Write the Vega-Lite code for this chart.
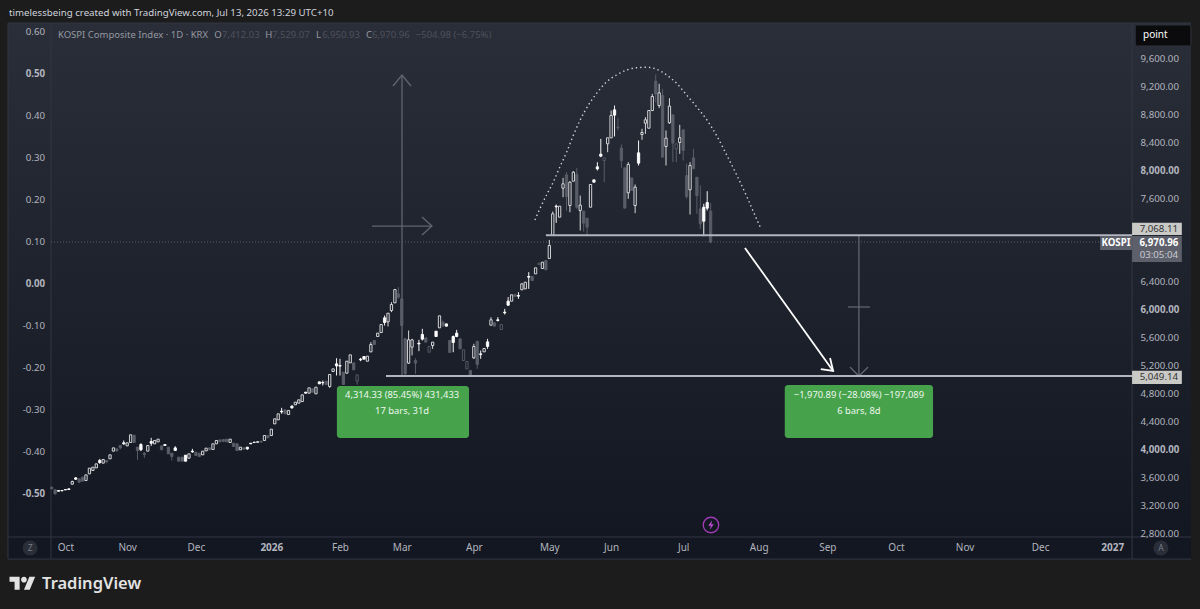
{"$schema":"https://vega.github.io/schema/vega-lite/v6.json","width":1200,"height":609,"autosize":"none","padding":0,"background":"#1c1c1c",
"config":{"font":"Noto Sans","view":{"stroke":null},"text":{"font":"Noto Sans","baseline":"middle"}},
"datasets":{
"frame":[{"part":"panel","bar":-12.73,"bar2":331.96,"price":2743,"price2":10108},{"part":"timeaxis","bar":-12.73,"bar2":331.96,"price":2427,"price2":2743}],
"borders":[{"bar":-0.2,"bar2":-0.2,"price":2427,"price2":10108},{"bar":314.8,"bar2":314.8,"price":2427,"price2":10108},{"bar":-12.73,"bar2":331.96,"price":2743,"price2":2743},{"bar":-12.73,"bar2":-12.73,"price":2427,"price2":10108},{"bar":-12.73,"bar2":331.96,"price":2427,"price2":2427},{"bar":-12.73,"bar2":331.96,"price":10108,"price2":10108}],
"candles":[
{"bar":0,"open":3457,"high":3460,"low":3430,"close":3433,"kind":"sd"},
{"bar":1,"open":3418,"high":3430,"low":3350,"close":3361,"kind":"sd"},
{"bar":2,"open":3409,"high":3412,"low":3396,"close":3399,"kind":"su"},
{"bar":3,"open":3409,"high":3412,"low":3400,"close":3404,"kind":"su"},
{"bar":4,"open":3423,"high":3426,"low":3415,"close":3418,"kind":"su"},
{"bar":5,"open":3433,"high":3436,"low":3420,"close":3423,"kind":"su"},
{"bar":6,"open":3500,"high":3550,"low":3495,"close":3538,"kind":"hu"},
{"bar":7,"open":3590,"high":3600,"low":3560,"close":3571,"kind":"su"},
{"bar":8,"open":3576,"high":3580,"low":3515,"close":3528,"kind":"sd"},
{"bar":9,"open":3600,"high":3605,"low":3540,"close":3543,"kind":"sd"},
{"bar":10,"open":3552,"high":3633,"low":3552,"close":3633,"kind":"hu"},
{"bar":11,"open":3648,"high":3729,"low":3648,"close":3729,"kind":"hu"},
{"bar":12,"open":3696,"high":3743,"low":3696,"close":3743,"kind":"hu"},
{"bar":13,"open":3734,"high":3791,"low":3734,"close":3791,"kind":"hu"},
{"bar":14,"open":3839,"high":3863,"low":3791,"close":3810,"kind":"su"},
{"bar":15,"open":3801,"high":3853,"low":3801,"close":3853,"kind":"hu"},
{"bar":16,"open":3839,"high":3839,"low":3800,"close":3820,"kind":"sd"},
{"bar":17,"open":3863,"high":3920,"low":3863,"close":3920,"kind":"hu"},
{"bar":18,"open":3973,"high":4020,"low":3973,"close":4020,"kind":"hu"},
{"bar":19,"open":4006,"high":4006,"low":3960,"close":3982,"kind":"sd"},
{"bar":20,"open":4054,"high":4054,"low":4000,"close":4020,"kind":"sd"},
{"bar":21,"open":4092,"high":4126,"low":4063,"close":4078,"kind":"su"},
{"bar":22,"open":4049,"high":4092,"low":4049,"close":4092,"kind":"hu"},
{"bar":23,"open":4097,"high":4207,"low":4097,"close":4207,"kind":"hu"},
{"bar":24,"open":4202,"high":4202,"low":4097,"close":4097,"kind":"sd"},
{"bar":25,"open":4030,"high":4030,"low":3848,"close":3982,"kind":"sd"},
{"bar":26,"open":4068,"high":4087,"low":3973,"close":3992,"kind":"su"},
{"bar":27,"open":3944,"high":3958,"low":3877,"close":3925,"kind":"sd"},
{"bar":28,"open":3973,"high":4054,"low":3973,"close":4054,"kind":"hu"},
{"bar":29,"open":4111,"high":4164,"low":4049,"close":4087,"kind":"su"},
{"bar":30,"open":4078,"high":4126,"low":4078,"close":4126,"kind":"hu"},
{"bar":31,"open":4106,"high":4145,"low":4106,"close":4145,"kind":"hu"},
{"bar":32,"open":4049,"high":4049,"low":3992,"close":3992,"kind":"sd"},
{"bar":33,"open":4068,"high":4072,"low":4050,"close":4054,"kind":"su"},
{"bar":34,"open":4030,"high":4030,"low":3934,"close":3934,"kind":"sd"},
{"bar":35,"open":3944,"high":3944,"low":3839,"close":3896,"kind":"sd"},
{"bar":36,"open":4020,"high":4044,"low":3982,"close":3982,"kind":"su"},
{"bar":37,"open":3887,"high":3887,"low":3829,"close":3829,"kind":"sd"},
{"bar":38,"open":3887,"high":3887,"low":3829,"close":3829,"kind":"sd"},
{"bar":39,"open":3915,"high":3915,"low":3829,"close":3829,"kind":"su"},
{"bar":40,"open":3872,"high":3934,"low":3872,"close":3934,"kind":"hu"},
{"bar":41,"open":3973,"high":4006,"low":3949,"close":3963,"kind":"su"},
{"bar":42,"open":3958,"high":3958,"low":3911,"close":3911,"kind":"sd"},
{"bar":43,"open":3944,"high":3944,"low":3896,"close":3896,"kind":"sd"},
{"bar":44,"open":3920,"high":3973,"low":3920,"close":3973,"kind":"hu"},
{"bar":45,"open":3977,"high":4016,"low":3977,"close":4016,"kind":"hu"},
{"bar":46,"open":4020,"high":4020,"low":3992,"close":3992,"kind":"sd"},
{"bar":47,"open":3997,"high":4078,"low":3997,"close":4078,"kind":"hu"},
{"bar":48,"open":4078,"high":4126,"low":4078,"close":4126,"kind":"hu"},
{"bar":49,"open":4135,"high":4135,"low":4106,"close":4106,"kind":"sd"},
{"bar":50,"open":4140,"high":4140,"low":4111,"close":4111,"kind":"sd"},
{"bar":51,"open":4145,"high":4145,"low":4106,"close":4106,"kind":"sd"},
{"bar":52,"open":4097,"high":4145,"low":4097,"close":4145,"kind":"hu"},
{"bar":53,"open":4087,"high":4087,"low":4040,"close":4040,"kind":"sd"},
{"bar":54,"open":4078,"high":4078,"low":3982,"close":3982,"kind":"sd"},
{"bar":55,"open":3992,"high":4030,"low":3992,"close":4030,"kind":"hu"},
{"bar":56,"open":4020,"high":4020,"low":4001,"close":4001,"kind":"sd"},
{"bar":57,"open":4030,"high":4030,"low":3992,"close":4006,"kind":"su"},
{"bar":58,"open":4087,"high":4090,"low":4075,"close":4078,"kind":"su"},
{"bar":59,"open":4102,"high":4104,"low":4095,"close":4097,"kind":"su"},
{"bar":60,"open":4106,"high":4108,"low":4100,"close":4102,"kind":"su"},
{"bar":61,"open":4116,"high":4116,"low":4102,"close":4102,"kind":"sd"},
{"bar":62,"open":4126,"high":4197,"low":4126,"close":4197,"kind":"hu"},
{"bar":63,"open":4197,"high":4197,"low":4164,"close":4164,"kind":"sd"},
{"bar":64,"open":4197,"high":4288,"low":4197,"close":4288,"kind":"hu"},
{"bar":65,"open":4364,"high":4436,"low":4364,"close":4436,"kind":"hu"},
{"bar":66,"open":4422,"high":4508,"low":4422,"close":4508,"kind":"hu"},
{"bar":67,"open":4546,"high":4594,"low":4508,"close":4536,"kind":"su"},
{"bar":68,"open":4565,"high":4565,"low":4508,"close":4508,"kind":"sd"},
{"bar":69,"open":4498,"high":4555,"low":4498,"close":4555,"kind":"hu"},
{"bar":70,"open":4618,"high":4630,"low":4580,"close":4594,"kind":"su"},
{"bar":71,"open":4637,"high":4675,"low":4637,"close":4675,"kind":"hu"},
{"bar":72,"open":4661,"high":4708,"low":4661,"close":4708,"kind":"hu"},
{"bar":73,"open":4684,"high":4780,"low":4684,"close":4780,"kind":"hu"},
{"bar":74,"open":4818,"high":4822,"low":4800,"close":4804,"kind":"su"},
{"bar":75,"open":4804,"high":4880,"low":4804,"close":4880,"kind":"hu"},
{"bar":76,"open":4866,"high":4866,"low":4818,"close":4818,"kind":"sd"},
{"bar":77,"open":4794,"high":4890,"low":4794,"close":4890,"kind":"hu"},
{"bar":78,"open":4966,"high":4970,"low":4934,"close":4938,"kind":"su"},
{"bar":79,"open":4957,"high":4985,"low":4914,"close":4952,"kind":"su"},
{"bar":80,"open":4976,"high":4976,"low":4928,"close":4928,"kind":"sd"},
{"bar":81,"open":4899,"high":5071,"low":4880,"close":5071,"kind":"hu"},
{"bar":82,"open":5114,"high":5152,"low":5114,"close":5152,"kind":"hu"},
{"bar":83,"open":5224,"high":5305,"low":5057,"close":5195,"kind":"su"},
{"bar":84,"open":5200,"high":5296,"low":5057,"close":5191,"kind":"su"},
{"bar":85,"open":5105,"high":5105,"low":4928,"close":4928,"kind":"sd"},
{"bar":86,"open":5090,"high":5262,"low":5090,"close":5262,"kind":"hu"},
{"bar":87,"open":5238,"high":5353,"low":5238,"close":5353,"kind":"hu"},
{"bar":88,"open":5238,"high":5238,"low":5138,"close":5138,"kind":"sd"},
{"bar":89,"open":4976,"high":5066,"low":4928,"close":5066,"kind":"hd"},
{"bar":90,"open":5291,"high":5310,"low":5262,"close":5281,"kind":"su"},
{"bar":91,"open":5329,"high":5329,"low":5291,"close":5291,"kind":"su"},
{"bar":92,"open":5262,"high":5334,"low":5262,"close":5334,"kind":"hu"},
{"bar":93,"open":5396,"high":5535,"low":5390,"close":5501,"kind":"hu"},
{"bar":94,"open":5559,"high":5559,"low":5501,"close":5501,"kind":"sd"},
{"bar":95,"open":5616,"high":5664,"low":5616,"close":5664,"kind":"hu"},
{"bar":96,"open":5673,"high":5788,"low":5673,"close":5788,"kind":"hu"},
{"bar":97,"open":5883,"high":5917,"low":5773,"close":5816,"kind":"su"},
{"bar":98,"open":5826,"high":5950,"low":5759,"close":5950,"kind":"hu"},
{"bar":99,"open":5988,"high":6108,"low":5965,"close":6074,"kind":"hu"},
{"bar":100,"open":6098,"high":6289,"low":6098,"close":6289,"kind":"hu"},
{"bar":101,"open":6227,"high":6323,"low":6156,"close":6180,"kind":"sd"},
{"bar":102,"open":6156,"high":6156,"low":5773,"close":5773,"kind":"sd"},
{"bar":103,"open":5582,"high":5597,"low":5033,"close":5081,"kind":"sd"},
{"bar":104,"open":5234,"high":5702,"low":5224,"close":5568,"kind":"hu"},
{"bar":105,"open":5463,"high":5582,"low":5344,"close":5568,"kind":"hu"},
{"bar":106,"open":5272,"high":5305,"low":5081,"close":5234,"kind":"sd"},
{"bar":107,"open":5520,"high":5568,"low":5406,"close":5510,"kind":"su"},
{"bar":108,"open":5645,"high":5726,"low":5559,"close":5578,"kind":"su"},
{"bar":109,"open":5597,"high":5597,"low":5535,"close":5535,"kind":"sd"},
{"bar":110,"open":5391,"high":5473,"low":5391,"close":5473,"kind":"hd"},
{"bar":111,"open":5487,"high":5535,"low":5439,"close":5535,"kind":"hu"},
{"bar":112,"open":5692,"high":5692,"low":5616,"close":5616,"kind":"su"},
{"bar":113,"open":5740,"high":5912,"low":5740,"close":5912,"kind":"hu"},
{"bar":114,"open":5821,"high":5845,"low":5750,"close":5773,"kind":"sd"},
{"bar":115,"open":5797,"high":5797,"low":5764,"close":5764,"kind":"su"},
{"bar":116,"open":5559,"high":5559,"low":5387,"close":5387,"kind":"sd"},
{"bar":117,"open":5616,"high":5630,"low":5391,"close":5530,"kind":"su"},
{"bar":118,"open":5664,"high":5711,"low":5606,"close":5616,"kind":"su"},
{"bar":119,"open":5582,"high":5582,"low":5439,"close":5439,"kind":"sd"},
{"bar":120,"open":5272,"high":5425,"low":5272,"close":5425,"kind":"hd"},
{"bar":121,"open":5152,"high":5258,"low":5152,"close":5258,"kind":"hd"},
{"bar":122,"open":5129,"high":5129,"low":5043,"close":5043,"kind":"sd"},
{"bar":123,"open":5310,"high":5511,"low":5296,"close":5473,"kind":"hu"},
{"bar":124,"open":5544,"high":5559,"low":5152,"close":5215,"kind":"sd"},
{"bar":125,"open":5367,"high":5415,"low":5296,"close":5358,"kind":"su"},
{"bar":126,"open":5396,"high":5444,"low":5396,"close":5444,"kind":"hu"},
{"bar":127,"open":5539,"high":5582,"low":5439,"close":5473,"kind":"su"},
{"bar":128,"open":5778,"high":5893,"low":5778,"close":5855,"kind":"hu"},
{"bar":129,"open":5812,"high":5812,"low":5764,"close":5764,"kind":"sd"},
{"bar":130,"open":5855,"high":5893,"low":5831,"close":5845,"kind":"su"},
{"bar":131,"open":5716,"high":5788,"low":5716,"close":5788,"kind":"hd"},
{"bar":132,"open":5965,"high":6012,"low":5931,"close":5955,"kind":"su"},
{"bar":133,"open":6122,"high":6180,"low":6055,"close":6065,"kind":"su"},
{"bar":134,"open":6122,"high":6213,"low":6122,"close":6213,"kind":"hu"},
{"bar":135,"open":6218,"high":6218,"low":6189,"close":6189,"kind":"sd"},
{"bar":136,"open":6203,"high":6251,"low":6156,"close":6194,"kind":"su"},
{"bar":137,"open":6285,"high":6371,"low":6285,"close":6371,"kind":"hu"},
{"bar":138,"open":6299,"high":6394,"low":6299,"close":6394,"kind":"hu"},
{"bar":139,"open":6476,"high":6538,"low":6299,"close":6466,"kind":"su"},
{"bar":140,"open":6476,"high":6476,"low":6418,"close":6418,"kind":"sd"},
{"bar":141,"open":6514,"high":6600,"low":6514,"close":6600,"kind":"hu"},
{"bar":142,"open":6648,"high":6667,"low":6648,"close":6667,"kind":"hd"},
{"bar":143,"open":6590,"high":6681,"low":6590,"close":6681,"kind":"hu"},
{"bar":144,"open":6705,"high":6705,"low":6571,"close":6571,"kind":"sd"},
{"bar":145,"open":6734,"high":7000,"low":6734,"close":6920,"kind":"hu"},
{"bar":146,"open":7063,"high":7407,"low":7063,"close":7374,"kind":"hu"},
{"bar":147,"open":7483,"high":7507,"low":7245,"close":7474,"kind":"su"},
{"bar":148,"open":7326,"high":7483,"low":7326,"close":7483,"kind":"hu"},
{"bar":149,"open":7741,"high":7889,"low":7612,"close":7804,"kind":"hu"},
{"bar":150,"open":7932,"high":7971,"low":7421,"close":7622,"kind":"sd"},
{"bar":151,"open":7493,"high":7842,"low":7397,"close":7827,"kind":"hu"},
{"bar":152,"open":7842,"high":7985,"low":7842,"close":7971,"kind":"hu"},
{"bar":153,"open":7937,"high":8033,"low":7445,"close":7469,"kind":"sd"},
{"bar":154,"open":7421,"high":7636,"low":7135,"close":7498,"kind":"hu"},
{"bar":155,"open":7412,"high":7412,"low":7120,"close":7240,"kind":"sd"},
{"bar":156,"open":7311,"high":7311,"low":7063,"close":7182,"kind":"sd"},
{"bar":157,"open":7469,"high":7794,"low":7469,"close":7794,"kind":"hu"},
{"bar":158,"open":7861,"high":7861,"low":7827,"close":7827,"kind":"su"},
{"bar":159,"open":8047,"high":8114,"low":7995,"close":8018,"kind":"su"},
{"bar":160,"open":8229,"high":8448,"low":8186,"close":8200,"kind":"su"},
{"bar":161,"open":8138,"high":8176,"low":7827,"close":8176,"kind":"hd"},
{"bar":162,"open":8377,"high":8463,"low":8257,"close":8463,"kind":"hu"},
{"bar":163,"open":8463,"high":8854,"low":8463,"close":8783,"kind":"hu"},
{"bar":164,"open":8864,"high":8926,"low":8482,"close":8788,"kind":"su"},
{"bar":165,"open":8616,"high":8745,"low":8568,"close":8606,"kind":"sd"},
{"bar":166,"open":8315,"high":8367,"low":8033,"close":8138,"kind":"sd"},
{"bar":167,"open":8033,"high":8033,"low":7455,"close":7455,"kind":"sd"},
{"bar":168,"open":7675,"high":8114,"low":7589,"close":8081,"kind":"hu"},
{"bar":169,"open":7889,"high":7889,"low":7708,"close":7708,"kind":"sd"},
{"bar":170,"open":7493,"high":7794,"low":7383,"close":7756,"kind":"hu"},
{"bar":171,"open":8248,"high":8425,"low":8066,"close":8100,"kind":"su"},
{"bar":172,"open":8511,"high":8592,"low":8434,"close":8539,"kind":"hu"},
{"bar":173,"open":8673,"high":8759,"low":8520,"close":8721,"kind":"hu"},
{"bar":174,"open":8601,"high":8854,"low":8601,"close":8854,"kind":"hu"},
{"bar":175,"open":8854,"high":9093,"low":8854,"close":9055,"kind":"hu"},
{"bar":176,"open":9275,"high":9370,"low":8974,"close":9093,"kind":"sd"},
{"bar":177,"open":8926,"high":9237,"low":8888,"close":9108,"kind":"hu"},
{"bar":178,"open":9069,"high":9165,"low":8186,"close":8186,"kind":"sd"},
{"bar":179,"open":8339,"high":8568,"low":8066,"close":8458,"kind":"hu"},
{"bar":180,"open":8678,"high":9031,"low":8663,"close":8917,"kind":"hu"},
{"bar":181,"open":8792,"high":8792,"low":8114,"close":8386,"kind":"sd"},
{"bar":182,"open":8305,"high":8377,"low":8114,"close":8377,"kind":"hd"},
{"bar":183,"open":8396,"high":8649,"low":8233,"close":8463,"kind":"hu"},
{"bar":184,"open":8577,"high":8577,"low":8138,"close":8281,"kind":"sd"},
{"bar":185,"open":7923,"high":8090,"low":7589,"close":7622,"kind":"sd"},
{"bar":186,"open":7718,"high":8114,"low":7364,"close":8066,"kind":"hu"},
{"bar":187,"open":8176,"high":8305,"low":8018,"close":8018,"kind":"sd"},
{"bar":188,"open":7899,"high":7899,"low":7374,"close":7636,"kind":"sd"},
{"bar":189,"open":7445,"high":7780,"low":7159,"close":7230,"kind":"sd"},
{"bar":190,"open":7469,"high":7517,"low":7054,"close":7268,"kind":"su"},
{"bar":191,"open":7536,"high":7698,"low":7421,"close":7455,"kind":"su"},
{"bar":192,"open":7412.03,"high":7529.07,"low":6950.93,"close":6970.96,"kind":"sd"}
],
"arc":[{"bar":140.8,"price":7285},{"bar":142.3,"price":7453},{"bar":144.2,"price":7644},{"bar":146.2,"price":7834},{"bar":148.1,"price":8049},{"bar":150.1,"price":8264},{"bar":152,"price":8500},{"bar":153.9,"price":8710},{"bar":156.4,"price":8933},{"bar":158.8,"price":9101},{"bar":161.7,"price":9267},{"bar":164.6,"price":9363},{"bar":167.5,"price":9435},{"bar":170.5,"price":9468},{"bar":173.4,"price":9474},{"bar":176.3,"price":9445},{"bar":179.2,"price":9363},{"bar":182.1,"price":9244},{"bar":185,"price":9077},{"bar":187.9,"price":8909},{"bar":190.9,"price":8720},{"bar":193.8,"price":8490},{"bar":196.7,"price":8215},{"bar":199.6,"price":7930},{"bar":202.5,"price":7625},{"bar":204.4,"price":7410},{"bar":206.4,"price":7190}],
"grayDraw":[
{"id":"up","o":1,"bar":102.07,"price":5049},{"id":"up","o":2,"bar":102.07,"price":9363},
{"id":"uphead","o":1,"bar":99.45,"price":9206},{"id":"uphead","o":2,"bar":102.07,"price":9363},{"id":"uphead","o":3,"bar":104.69,"price":9206},
{"id":"h","o":1,"bar":93.33,"price":7199},{"id":"h","o":2,"bar":110.8,"price":7199},
{"id":"hhead","o":1,"bar":107.9,"price":7328},{"id":"hhead","o":2,"bar":110.8,"price":7199},{"id":"hhead","o":3,"bar":107.9,"price":7070},
{"id":"down","o":1,"bar":235.2,"price":7068},{"id":"down","o":2,"bar":235.2,"price":5049},
{"id":"downhead","o":1,"bar":232.6,"price":5179},{"id":"downhead","o":2,"bar":235.2,"price":5049},{"id":"downhead","o":3,"bar":237.9,"price":5179},
{"id":"cross","o":1,"bar":232,"price":6039},{"id":"cross","o":2,"bar":238.4,"price":6039}],
"whiteArrow":[
{"id":"s","o":1,"bar":202,"price":6884},{"id":"s","o":2,"bar":227.7,"price":5122},
{"id":"w","o":1,"bar":224.1,"price":5150},{"id":"w","o":2,"bar":227.7,"price":5122},{"id":"w","o":3,"bar":226.8,"price":5308}],
"levels":[{"bar":144,"bar2":314.8,"price":7068.11,"price2":7068.11},{"bar":97.4,"bar2":314.8,"price":5049.14,"price2":5049.14}],
"lastPrice":[{"bar":-0.2,"bar2":314.8,"price":6970.96,"price2":6970.96}],
"boxes":[{"bar":83.1,"bar2":121.6,"price":4907,"price2":4161},{"bar":213.6,"bar2":256.8,"price":4921,"price2":4161}],
"lightTags":[{"bar":314.8,"bar2":329.3,"price":7247,"price2":7070},{"bar":314.8,"bar2":329.3,"price":5126,"price2":4935}],
"darkTags":[{"bar":314.8,"bar2":329.3,"price":7056,"price2":6684},{"bar":305.5,"bar2":314.8,"price":7056,"price2":6855}],
"button":[{"bar":315.7,"bar2":331.96,"price":10080,"price2":9779}],
"circles":[{"bar":-6.3,"price":2585},{"bar":323.2,"price":2585}],
"bolt":[{"bar":192.1,"price":2915}],
"logo":[{"bar":-8.5,"price":2069}],
"texts":[
{"role":"header","bar":-12.43,"price":10252,"text":"timelessbeing created with TradingView.com, Jul 13, 2026 13:29 UTC+10"},
{"role":"legend","bar":1.84,"price":9936,"text":"KOSPI Composite Index · 1D · KRX"},
{"role":"legend","bar":47.4,"price":9936,"text":"O"},
{"role":"legend","bar":62.2,"price":9936,"text":"H"},
{"role":"legend","bar":77,"price":9936,"text":"L"},
{"role":"legend","bar":91.6,"price":9936,"text":"C"},
{"role":"value","bar":49.6,"price":9936,"text":"7,412.03"},
{"role":"value","bar":64.2,"price":9936,"text":"7,529.07"},
{"role":"value","bar":78.8,"price":9936,"text":"6,950.93"},
{"role":"value","bar":93.3,"price":9936,"text":"6,970.96"},
{"role":"value","bar":106.1,"price":9936,"text":"−504.98 (−6.75%)"},
{"role":"box","bar":102.1,"price":4778,"text":"4,314.33 (85.45%) 431,433"},
{"role":"box","bar":102.1,"price":4548,"text":"17 bars, 31d"},
{"role":"box","bar":235.2,"price":4778,"text":"−1,970.89 (−28.08%) −197,089"},
{"role":"box","bar":235.2,"price":4548,"text":"6 bars, 8d"},
{"role":"tagdark","bar":322.6,"price":7163,"text":"7,068.11"},
{"role":"tagdark","bar":322.6,"price":5036,"text":"5,049.14"},
{"role":"taglight","bar":322.6,"price":6956,"text":"6,970.96"},
{"role":"taglight","bar":310.1,"price":6956,"text":"KOSPI"},
{"role":"timer","bar":322.6,"price":6791,"text":"03:05:04"},
{"role":"point","bar":318,"price":9936,"text":"point"},
{"role":"round","bar":-6.3,"price":2585,"text":"Z"},
{"role":"round","bar":323.2,"price":2585,"text":"A"},
{"role":"brand","bar":-2.8,"price":2069,"text":"TradingView"},
{"role":"left","bar":-1.95,"price":9979,"text":"0.60"},
{"role":"leftb","bar":-1.95,"price":9378,"text":"0.50"},
{"role":"left","bar":-1.95,"price":8776,"text":"0.40"},
{"role":"left","bar":-1.95,"price":8174,"text":"0.30"},
{"role":"left","bar":-1.95,"price":7572,"text":"0.20"},
{"role":"left","bar":-1.95,"price":6970,"text":"0.10"},
{"role":"leftb","bar":-1.95,"price":6368,"text":"0.00"},
{"role":"left","bar":-1.95,"price":5766,"text":"-0.10"},
{"role":"left","bar":-1.95,"price":5165,"text":"-0.20"},
{"role":"left","bar":-1.95,"price":4563,"text":"-0.30"},
{"role":"left","bar":-1.95,"price":3961,"text":"-0.40"},
{"role":"leftb","bar":-1.95,"price":3359,"text":"-0.50"}
]},
"encoding":{
"x":{"field":"bar","type":"quantitative","scale":{"domain":[-15.06,334.59],"nice":false,"zero":false,"padding":0},
 "axis":{"orient":"bottom","offset":-72,"domain":false,"ticks":false,"grid":false,"title":null,"zindex":1,"labelPadding":5,"labelFontSize":10,"labelColor":"#b2b5be","labelOverlap":false,"labelBound":false,"labelFlush":false,
 "values":[4,22,42,64,84,102,123,145,163,184,206,226,246,266,288,309],
 "labelExpr":"['Oct','Nov','Dec','2026','Feb','Mar','Apr','May','Jun','Jul','Aug','Sep','Oct','Nov','Dec','2027'][indexof([4,22,42,64,84,102,123,145,163,184,206,226,246,266,288,309],datum.value)]",
 "labelFontWeight":{"condition":{"test":"datum.value==64||datum.value==309","value":"bold"},"value":"normal"}}},
"y":{"field":"price","type":"quantitative","scale":{"domain":[1711,10438],"nice":false,"zero":false},
 "axis":{"orient":"right","offset":-68,"domain":false,"ticks":false,"grid":false,"title":null,"zindex":1,"labelPadding":8,"labelFontSize":9.7,"labelColor":"#b2b5be","labelOverlap":false,"labelBound":false,"format":",.2f",
 "values":[2800,3200,3600,4000,4400,4800,5200,5600,6000,6400,7600,8000,8400,8800,9200,9600],
 "labelFontWeight":{"condition":{"test":"datum.value==4000||datum.value==6000||datum.value==8000","value":"bold"},"value":"normal"}}}},
"layer":[
{"data":{"name":"frame"},"transform":[{"filter":"datum.part=='panel'"}],"mark":{"type":"rect","color":{"gradient":"linear","x1":0,"y1":0,"x2":0,"y2":1,"stops":[{"offset":0,"color":"#2a2e39"},{"offset":1,"color":"#131722"}]}},"encoding":{"x2":{"field":"bar2"},"y2":{"field":"price2"}}},
{"data":{"name":"frame"},"transform":[{"filter":"datum.part=='timeaxis'"}],"mark":{"type":"rect","color":"#131722"},"encoding":{"x2":{"field":"bar2"},"y2":{"field":"price2"}}},
{"data":{"name":"borders"},"mark":{"type":"rule","color":"#333743","strokeWidth":1},"encoding":{"x2":{"field":"bar2"},"y2":{"field":"price2"}}},
{"data":{"name":"lastPrice"},"mark":{"type":"rule","color":"#5d606b","strokeWidth":1,"strokeDash":[1,2]},"encoding":{"x2":{"field":"bar2"},"y2":{"field":"price2"}}},
{"data":{"name":"grayDraw"},"mark":{"type":"line","color":"#62656f","strokeWidth":1.3},"encoding":{"detail":{"field":"id"},"order":{"field":"o"}}},
{"data":{"name":"candles"},"mark":{"type":"rule","strokeWidth":1},"encoding":{
 "y":{"field":"low","type":"quantitative","scale":{"domain":[1711,10438],"nice":false,"zero":false},
 "axis":{"orient":"right","offset":-68,"domain":false,"ticks":false,"grid":false,"title":null,"zindex":1,"labelPadding":8,"labelFontSize":9.7,"labelColor":"#b2b5be","labelOverlap":false,"labelBound":false,"format":",.2f",
 "values":[2800,3200,3600,4000,4400,4800,5200,5600,6000,6400,7600,8000,8400,8800,9200,9600],
 "labelFontWeight":{"condition":{"test":"datum.value==4000||datum.value==6000||datum.value==8000","value":"bold"},"value":"normal"}}},"y2":{"field":"high"},
 "color":{"field":"kind","type":"nominal","scale":{"domain":["hu","su","sd","hd"],"range":["#d8d8da","#f4f4f4","#5a5d68","#5a5d68"]},"legend":null}}},
{"data":{"name":"candles"},"mark":{"type":"bar","size":2.3,"strokeWidth":0.9},"encoding":{
 "y":{"field":"open","type":"quantitative","scale":{"domain":[1711,10438],"nice":false,"zero":false},
 "axis":{"orient":"right","offset":-68,"domain":false,"ticks":false,"grid":false,"title":null,"zindex":1,"labelPadding":8,"labelFontSize":9.7,"labelColor":"#b2b5be","labelOverlap":false,"labelBound":false,"format":",.2f",
 "values":[2800,3200,3600,4000,4400,4800,5200,5600,6000,6400,7600,8000,8400,8800,9200,9600],
 "labelFontWeight":{"condition":{"test":"datum.value==4000||datum.value==6000||datum.value==8000","value":"bold"},"value":"normal"}}},"y2":{"field":"close"},
 "fill":{"field":"kind","type":"nominal","scale":{"domain":["hu","su","sd","hd"],"range":["#1c202b","#ffffff","#5a5d68","#1c202b"]},"legend":null},
 "stroke":{"field":"kind","type":"nominal","scale":{"domain":["hu","su","sd","hd"],"range":["#e6e6e8","#ffffff","#5a5d68","#5a5d68"]},"legend":null}}},
{"data":{"name":"arc"},"mark":{"type":"line","color":"#d0d2d6","strokeWidth":1.4,"strokeDash":[1.4,3],"interpolate":"monotone"}},
{"data":{"name":"whiteArrow"},"mark":{"type":"line","color":"#ffffff","strokeWidth":1.8},"encoding":{"detail":{"field":"id"},"order":{"field":"o"}}},
{"data":{"name":"levels"},"mark":{"type":"rule","color":"#b2b5be","strokeWidth":2},"encoding":{"x2":{"field":"bar2"},"y2":{"field":"price2"}}},
{"data":{"name":"boxes"},"mark":{"type":"rect","color":"#46a34c","cornerRadius":3},"encoding":{"x2":{"field":"bar2"},"y2":{"field":"price2"}}},
{"data":{"name":"lightTags"},"mark":{"type":"rect","color":"#c9c9c6"},"encoding":{"x2":{"field":"bar2"},"y2":{"field":"price2"}}},
{"data":{"name":"darkTags"},"mark":{"type":"rect","color":"#5d606b"},"encoding":{"x2":{"field":"bar2"},"y2":{"field":"price2"}}},
{"data":{"name":"button"},"mark":{"type":"rect","color":"#0b0b0d","stroke":"#30333c","strokeWidth":1,"cornerRadius":2},"encoding":{"x2":{"field":"bar2"},"y2":{"field":"price2"}}},
{"data":{"name":"circles"},"mark":{"type":"point","filled":true,"color":"#2a2e39","size":225,"opacity":1}},
{"data":{"name":"bolt"},"mark":{"type":"point","filled":false,"color":"#a23bb8","strokeWidth":1.3,"size":240,"shape":"circle","opacity":1}},
{"data":{"name":"bolt"},"mark":{"type":"point","filled":true,"color":"#b84ccf","size":90,"opacity":1,"shape":"M0.25 -1 L-0.6 0.15 L-0.05 0.15 L-0.25 1 L0.6 -0.15 L0.05 -0.15 Z"}},
{"data":{"name":"logo"},"mark":{"type":"point","filled":true,"color":"#e2e2e2","size":676,"opacity":1,"shape":"M-1 -0.556 L-0.222 -0.556 L-0.222 0.444 L-0.611 0.444 L-0.611 -0.167 L-1 -0.167 Z M0.111 0.444 L0.556 0.444 L0.972 -0.556 L0.528 -0.556 Z M-0.111 -0.333 a0.222 0.222 0 1 0 0.444 0 a0.222 0.222 0 1 0 -0.444 0 Z"}},
{"data":{"name":"texts"},"transform":[{"filter":"datum.role=='header'"}],"mark":{"type":"text","align":"left","fontSize":9.7,"color":"#d1d4dc"},"encoding":{"text":{"field":"text"}}},
{"data":{"name":"texts"},"transform":[{"filter":"datum.role=='legend'"}],"mark":{"type":"text","align":"left","fontSize":9.5,"color":"#9598a1"},"encoding":{"text":{"field":"text"}}},
{"data":{"name":"texts"},"transform":[{"filter":"datum.role=='value'"}],"mark":{"type":"text","align":"left","fontSize":9.5,"color":"#4e515c"},"encoding":{"text":{"field":"text"}}},
{"data":{"name":"texts"},"transform":[{"filter":"datum.role=='box'"}],"mark":{"type":"text","align":"center","fontSize":9.4,"color":"#eef7ef"},"encoding":{"text":{"field":"text"}}},
{"data":{"name":"texts"},"transform":[{"filter":"datum.role=='tagdark'"}],"mark":{"type":"text","align":"center","fontSize":9.7,"color":"#333333"},"encoding":{"text":{"field":"text"}}},
{"data":{"name":"texts"},"transform":[{"filter":"datum.role=='taglight'"}],"mark":{"type":"text","align":"center","fontSize":9.7,"color":"#ffffff","fontWeight":"bold"},"encoding":{"text":{"field":"text"}}},
{"data":{"name":"texts"},"transform":[{"filter":"datum.role=='timer'"}],"mark":{"type":"text","align":"center","fontSize":9.7,"color":"#c9cbd1"},"encoding":{"text":{"field":"text"}}},
{"data":{"name":"texts"},"transform":[{"filter":"datum.role=='point'"}],"mark":{"type":"text","align":"left","fontSize":10,"color":"#ffffff"},"encoding":{"text":{"field":"text"}}},
{"data":{"name":"texts"},"transform":[{"filter":"datum.role=='round'"}],"mark":{"type":"text","align":"center","fontSize":8.5,"color":"#787b86"},"encoding":{"text":{"field":"text"}}},
{"data":{"name":"texts"},"transform":[{"filter":"datum.role=='brand'"}],"mark":{"type":"text","align":"left","fontSize":16.5,"fontWeight":600,"color":"#e2e2e2"},"encoding":{"text":{"field":"text"}}},
{"data":{"name":"texts"},"transform":[{"filter":"datum.role=='left'"}],"mark":{"type":"text","align":"right","fontSize":9.7,"color":"#b2b5be"},"encoding":{"text":{"field":"text"}}},
{"data":{"name":"texts"},"transform":[{"filter":"datum.role=='leftb'"}],"mark":{"type":"text","align":"right","fontSize":9.7,"fontWeight":"bold","color":"#b2b5be"},"encoding":{"text":{"field":"text"}}}
]
}
